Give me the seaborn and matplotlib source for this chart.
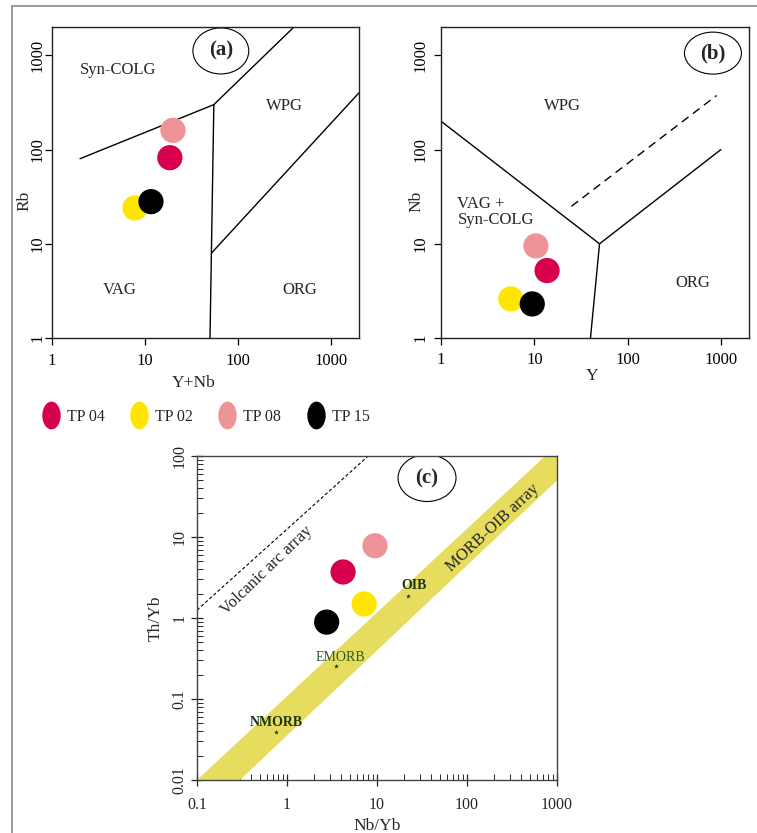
import numpy as np
import pandas as pd
import seaborn as sns
import matplotlib.pyplot as plt
from matplotlib.patches import Ellipse, Polygon
from matplotlib.lines import Line2D
from matplotlib.path import Path
from matplotlib.ticker import NullLocator, LogLocator

# Samples (legend order) and colours
samples = ["TP 04", "TP 02", "TP 08", "TP 15"]
colors = ["#D6004F", "#FFE500", "#EE9397", "#000000"]
draw_order = ["TP 08", "TP 04", "TP 02", "TP 15"]

# (a) Rb vs Y+Nb
y_nb = [18.5, 7.8, 20, 11.6]
rb = [82, 24, 160, 28]
# (b) Nb vs Y
y_val = [13.7, 5.6, 10.4, 9.5]
nb = [5.2, 2.6, 9.5, 2.3]
# (c) Th/Yb vs Nb/Yb
nb_yb = [4.2, 7.2, 9.5, 2.76]
th_yb = [3.7, 1.49, 7.8, 0.89]

# Pearce (1984) field boundaries, panel (a)
a_syncolg_x, a_syncolg_y = [2, 55], [80, 300]
a_wpg_x, a_wpg_y = [55, 400], [300, 2000]
a_vag_x, a_vag_y = [55, 50], [300, 1]
a_org_x, a_org_y = [52, 2000], [8, 400]

# panel (b)
b_left_x, b_left_y = [1, 50], [200, 10]
b_right_x, b_right_y = [50, 1000], [10, 100]
b_down_x, b_down_y = [50, 40], [10, 1]
b_dash_x, b_dash_y = [25, 900], [25, 375]

# panel (c)
arc_x, arc_y = [0.1, 8], [1.25, 100]
band_x = [0.1, 740, 1000, 1000, 0.3]
band_y = [0.01, 100, 100, 50, 0.01]
ref_names = ["NMORB", "EMORB", "OIB"]
ref_x = [0.764, 3.5, 22.2]
ref_y = [0.0393, 0.253, 1.85]

df = pd.DataFrame({"sample": samples, "y_nb": y_nb, "rb": rb, "y": y_val,
                   "nb": nb, "nb_yb": nb_yb, "th_yb": th_yb})
df = df.set_index("sample").loc[draw_order].reset_index()
pal = dict(zip(samples, colors))

sns.set_style("ticks")
plt.rcParams["font.family"] = ["Liberation Serif", "DejaVu Serif"]
plt.rcParams["axes.linewidth"] = 1.0

fig = plt.figure(figsize=(7.57, 8.33), dpi=100)
ax_a = fig.add_axes([0.0687, 0.5942, 0.4055, 0.3734])
ax_b = fig.add_axes([0.5826, 0.5942, 0.4068, 0.3734])
ax_c = fig.add_axes([0.2602, 0.0636, 0.4756, 0.3890])

# outer frame (left and top edges only visible)
fig.add_artist(Line2D([12 / 757, 12 / 757], [0, 1 - 6 / 833], transform=fig.transFigure,
                      color="#8a8a8a", lw=1.2))
fig.add_artist(Line2D([12 / 757, 1], [1 - 6 / 833, 1 - 6 / 833], transform=fig.transFigure,
                      color="#8a8a8a", lw=1.2))

dec_ticks = [1, 10, 100, 1000]
dec_labels = ["1", "10", "100", "1000"]

for ax in (ax_a, ax_b):
    ax.set_xscale("log")
    ax.set_yscale("log")
    ax.set_xlim(1, 2000)
    ax.set_ylim(1, 2000)
    ax.set_xticks(dec_ticks, labels=dec_labels)
    ax.set_yticks(dec_ticks, labels=dec_labels)
    ax.xaxis.set_minor_locator(NullLocator())
    ax.yaxis.set_minor_locator(NullLocator())
    ax.tick_params(direction="out", length=5, width=0.9, labelsize=12, colors="black")
    for lab in ax.get_yticklabels():
        lab.set_rotation(90)
        lab.set_va("center")
    for sp in ax.spines.values():
        sp.set_color("#222222")

ax_a.tick_params(axis="x", pad=6)
ax_a.tick_params(axis="y", pad=0)
ax_b.tick_params(axis="x", pad=5)
ax_b.tick_params(axis="y", pad=4)

line_kw = dict(color="black", lw=1.0)

# panel (a)
ax_a.plot(a_syncolg_x, a_syncolg_y, **line_kw)
ax_a.plot(a_wpg_x, a_wpg_y, **line_kw)
ax_a.plot(a_vag_x, a_vag_y, **line_kw)
ax_a.plot(a_org_x, a_org_y, **line_kw)
sns.scatterplot(data=df, x="y_nb", y="rb", hue="sample", palette=pal, s=330,
                linewidth=0, legend=False, ax=ax_a, zorder=5)
ax_a.text(5.1, 700, "Syn-COLG", fontsize=12, ha="center", va="center")
ax_a.text(5.4, 3.2, "VAG", fontsize=12, ha="center", va="center")
ax_a.text(320, 290, "WPG", fontsize=12, ha="center", va="center")
ax_a.text(465, 3.2, "ORG", fontsize=12, ha="center", va="center")
ax_a.set_xlabel("Y+Nb", fontsize=12.5)
ax_a.set_ylabel("Rb", fontsize=12.5)
ax_a.xaxis.set_label_coords(0.46, -0.119)
ax_a.yaxis.set_label_coords(-0.065, 0.44)
ax_a.add_patch(Ellipse((0.55, 0.923), 0.182, 0.148, transform=ax_a.transAxes,
                       fill=False, ec="black", lw=0.8))
ax_a.text(0.55, 0.923, "(a)", transform=ax_a.transAxes, fontsize=15,
          fontweight="bold", ha="center", va="center")

# panel (b)
ax_b.plot(b_left_x, b_left_y, **line_kw)
ax_b.plot(b_right_x, b_right_y, **line_kw)
ax_b.plot(b_down_x, b_down_y, **line_kw)
ax_b.plot(b_dash_x, b_dash_y, color="black", lw=1.0, ls=(0, (6, 4)))
sns.scatterplot(data=df, x="y", y="nb", hue="sample", palette=pal, s=330,
                linewidth=0, legend=False, ax=ax_b, zorder=5)
ax_b.text(20, 290, "WPG", fontsize=12, ha="center", va="center")
ax_b.text(1.5, 22, "VAG +\nSyn-COLG", fontsize=12, ha="left", va="center",
          linespacing=1.0)
ax_b.text(500, 3.8, "ORG", fontsize=12, ha="center", va="center")
ax_b.set_xlabel("Y", fontsize=12.5)
ax_b.set_ylabel("Nb", fontsize=12.5)
ax_b.xaxis.set_label_coords(0.49, -0.096)
ax_b.yaxis.set_label_coords(-0.055, 0.44)
ax_b.add_patch(Ellipse((0.883, 0.916), 0.185, 0.135, transform=ax_b.transAxes,
                       fill=False, ec="black", lw=0.8))
ax_b.text(0.883, 0.916, "(b)", transform=ax_b.transAxes, fontsize=15,
          fontweight="bold", ha="center", va="center")

# legend
ell = Path.unit_circle()
ell_marker = Path(ell.vertices * np.array([0.66, 1.0]), ell.codes)
handles = [Line2D([], [], ls="none", marker=ell_marker, markersize=20,
                  markerfacecolor=c, markeredgewidth=0) for c in colors]
fig.legend(handles, samples, loc="center left", bbox_to_anchor=(43 / 757, 1 - 417 / 833),
           ncol=4, frameon=False, fontsize=11.5, handlelength=1.0, handletextpad=0.5,
           columnspacing=1.65, borderpad=0, borderaxespad=0)

# panel (c)
ax_c.set_xscale("log")
ax_c.set_yscale("log")
ax_c.set_xlim(0.1, 1000)
ax_c.set_ylim(0.01, 100)
ax_c.add_patch(Polygon(np.column_stack([band_x, band_y]), closed=True,
                       fc="#E6DC5E", ec="none", zorder=1))
ax_c.plot(arc_x, arc_y, color="black", lw=0.8, ls=(0, (3, 2)))
sns.scatterplot(x=ref_x, y=ref_y, marker="*", s=14, color="#1b3312",
                linewidth=0, ax=ax_c, zorder=4)
ax_c.text(0.77, 0.052, "NMORB", fontsize=10, fontweight="bold", color="#1b3312",
          ha="center", va="center")
ax_c.text(3.9, 0.33, "EMORB", fontsize=10, color="#2c5a20", ha="center", va="center")
ax_c.text(26, 2.5, "OIB", fontsize=10, fontweight="bold", color="#1b3312",
          ha="center", va="center")
ax_c.text(0.6, 3.9, "Volcanic arc array", fontsize=12, rotation=44,
          ha="center", va="center")
ax_c.text(195, 13, "MORB-OIB array", fontsize=12, rotation=43,
          ha="center", va="center")
sns.scatterplot(data=df, x="nb_yb", y="th_yb", hue="sample", palette=pal, s=330,
                linewidth=0, legend=False, ax=ax_c, zorder=5)
ax_c.set_xticks([0.1, 1, 10, 100, 1000], labels=["0.1", "1", "10", "100", "1000"])
ax_c.set_yticks([0.01, 0.1, 1, 10, 100], labels=["0.01", "0.1", "1", "10", "100"])
ax_c.xaxis.set_minor_locator(LogLocator(subs=np.arange(2, 10)))
ax_c.yaxis.set_minor_locator(LogLocator(subs=np.arange(2, 10)))
ax_c.xaxis.set_minor_formatter(plt.NullFormatter())
ax_c.yaxis.set_minor_formatter(plt.NullFormatter())
ax_c.tick_params(which="major", direction="inout", length=8, width=0.9, labelsize=11.5)
ax_c.tick_params(which="minor", direction="in", length=4, width=0.7)
ax_c.tick_params(axis="x", which="major", pad=8)
ax_c.tick_params(axis="y", which="major", pad=3)
for lab in ax_c.get_yticklabels():
    lab.set_rotation(90)
    lab.set_va("center")
for sp in ax_c.spines.values():
    sp.set_color("#444444")
ax_c.set_xlabel("Nb/Yb", fontsize=12.5)
ax_c.set_ylabel("Th/Yb", fontsize=12.5)
ax_c.xaxis.set_label_coords(0.5, -0.117)
ax_c.yaxis.set_label_coords(-0.092, 0.5)
ax_c.add_patch(Ellipse((0.639, 0.932), 0.161, 0.145, transform=ax_c.transAxes,
                       fill=False, ec="black", lw=0.8))
ax_c.text(0.639, 0.932, "(c)", transform=ax_c.transAxes, fontsize=15,
          fontweight="bold", ha="center", va="center")

fig.savefig("out.png", dpi=100)
